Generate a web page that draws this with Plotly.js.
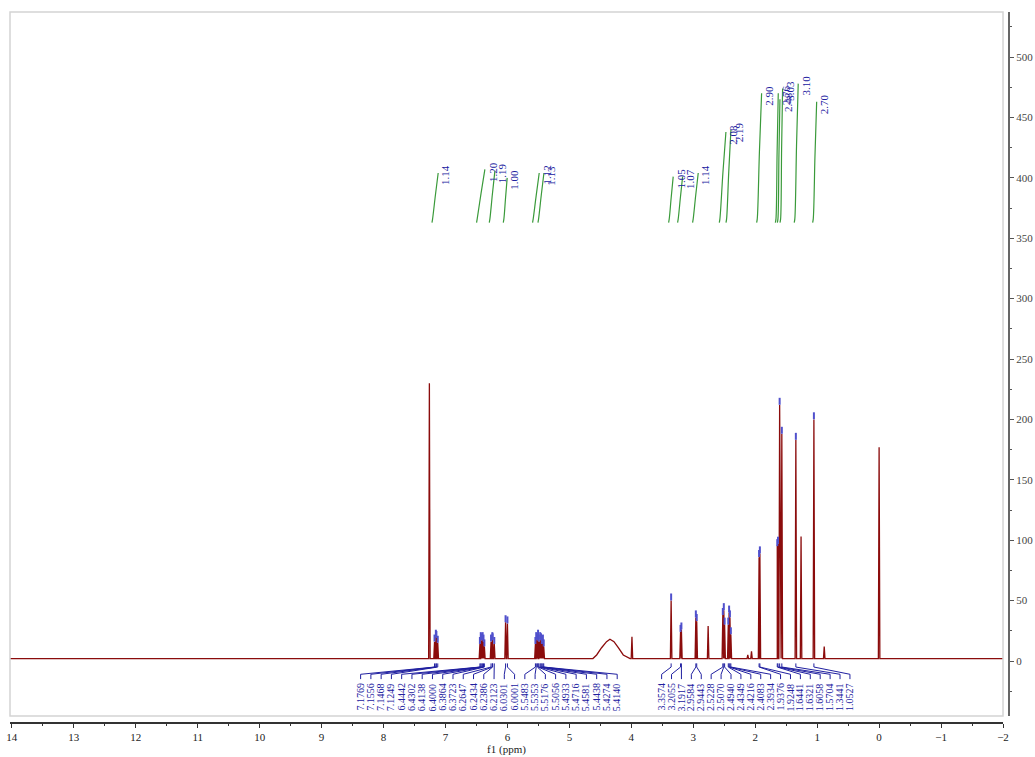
<!DOCTYPE html>
<html><head><meta charset="utf-8">
<script src="https://cdn.plot.ly/plotly-3.0.1.min.js"></script>
<style>html,body{margin:0;padding:0;background:#fff}</style>
</head><body><div id="chart" style="width:1035px;height:757px"></div>
<script>
// ---- data ----
const labeledPpm = [7.1769,7.1556,7.1468,7.1249,6.4442,6.4302,6.4138,6.4000,6.3864,6.3723,6.2647,6.2434,6.2386,6.2123,6.0301,6.0001,
  5.5483,5.5353,5.5176,5.5056,5.4933,5.4716,5.4581,5.4438,5.4274,5.4140,
  3.3574,3.2055,3.1917,2.9584,2.9443,2.5228,2.5070,2.4940,2.4349,2.4216,2.4083,2.3934,1.9376,1.9248,1.6441,1.6321,1.6058,1.5704,1.3441,1.0527];
const labeledHeight = [16,20,19,15,14,18,17,18,16,12,16,18,17,14,32,31,
  14,18,17,20,16,18,17,14,16,12,
  50,24,26,36,33,38,42,30,30,40,36,22,86,89,95,97,212,188,183,200];
const leftGroupCount = 26;
const otherPpm = [7.26, 3.99, 2.76, 2.12, 2.06, 1.26, 0.886, 0.0];
const otherHeight = [230, 20, 29, 5, 8, 103, 12, 177];
const broadPpm = [4.62, 4.56, 4.48, 4.40, 4.345, 4.28, 4.21, 4.13, 4.02];
const broadHeight = [2, 5, 11, 16, 18, 16, 11, 5, 2];
const baselineLevel = 2;
const intFrom = [7.208,6.488,6.283,6.057,5.584,5.497,3.388,3.243,3.001,2.570,2.462,1.967,1.665,1.633,1.590,1.3605,1.063];
const intTo   = [7.118,6.364,6.202,6.004,5.487,5.411,3.324,3.172,2.920,2.473,2.392,1.897,1.628,1.601,1.558,1.306,1.008];
const intTop  = [404,407,406,400,404,404,401,401,404,438,440,470,470,465,474,478,463];
const intBottom = 363;
const intLabels = ['1.14','1.20','1.19','1.00','1.12','1.13','1.05','1.07','1.14','2.08','2.19','2.90','2.76','2.48','3.03','3.10','2.70'];
const xTicks = [14,13,12,11,10,9,8,7,6,5,4,3,2,1,0,-1,-2];

// ---- styling / layout constants ----
const RED = '#8b0c0c', BLUE = '#2020a0', GREEN = '#3a9a3a';
const halfW = 0.012;
const leftLabelSpan = [8.370, 4.228], rightLabelSpan = [3.511, 0.471];

// spectrum line
let verts = [[14.03, baselineLevel], [-2, baselineLevel]];
const addPeak = (p, h) => { verts.push([p + halfW, baselineLevel], [p, h], [p - halfW, baselineLevel]); };
labeledPpm.forEach((p, i) => addPeak(p, labeledHeight[i]));
otherPpm.forEach((p, i) => addPeak(p, otherHeight[i]));
broadPpm.forEach((p, i) => verts.push([p, broadHeight[i]]));
verts.sort((a, b) => b[0] - a[0]);
const spec = {x: verts.map(v => v[0]), y: verts.map(v => v[1]), type: 'scatter', mode: 'lines',
  line: {color: RED, width: 1.3}, hoverinfo: 'skip'};

// peak pick markers
const marks = {x: labeledPpm, y: labeledHeight.map(h => h + 3), type: 'scatter', mode: 'markers',
  marker: {symbol: 'line-ns', size: 5, line: {color: '#5050cc', width: 2}}, hoverinfo: 'skip'};

// label positions & connectors
const labelX = labeledPpm.map((p, i) => {
  if (i < leftGroupCount) return leftLabelSpan[0] + (leftLabelSpan[1] - leftLabelSpan[0]) * i / (leftGroupCount - 1);
  const n = labeledPpm.length - leftGroupCount, j = i - leftGroupCount;
  return rightLabelSpan[0] + (rightLabelSpan[1] - rightLabelSpan[0]) * j / (n - 1);
});
const cx = [], cy = [];
labeledPpm.forEach((p, i) => { cx.push(p, p, labelX[i], labelX[i], null); cy.push(-2, -5, -11, -15, null); });
const conn = {x: cx, y: cy, type: 'scatter', mode: 'lines', line: {color: BLUE, width: 1}, hoverinfo: 'skip'};

// integral curves
const ix = [], iy = [];
intFrom.forEach((f, i) => {
  const t = intTo[i];
  ix.push(f + 0.01, f, f + (t - f) * 0.5, t, null);
  iy.push(intBottom, intBottom + 3, intBottom + (intTop[i] - intBottom) * 0.55, intTop[i], null);
});
const integ = {x: ix, y: iy, type: 'scatter', mode: 'lines', line: {color: GREEN, width: 1.2, shape: 'spline'}, hoverinfo: 'skip'};

const annotations = [];
labeledPpm.forEach((p, i) => annotations.push({x: labelX[i], y: -16.5, xref: 'x', yref: 'y', text: p.toFixed(4),
  showarrow: false, textangle: -90, xanchor: 'center', yanchor: 'top',
  font: {family: 'Liberation Serif', size: 10, color: BLUE}}));
intLabels.forEach((s, i) => annotations.push({x: intTo[i] - 0.12, y: intTop[i] + 8, xref: 'x', yref: 'y', text: s,
  showarrow: false, textangle: -90, xanchor: 'center', yanchor: 'top',
  font: {family: 'Liberation Serif', size: 11, color: BLUE}}));

const layout = {
  width: 1035, height: 757, margin: {l: 10, r: 26, t: 12, b: 35},
  paper_bgcolor: '#fff', plot_bgcolor: '#fff', showlegend: false, hovermode: false,
  xaxis: {domain: [0, 0.994], range: [14.03, -2], anchor: 'free', position: 0,
    showgrid: false, zeroline: false, showline: true, linecolor: '#333', linewidth: 1.5,
    ticks: 'outside', ticklen: 4, tickcolor: '#333', tickvals: xTicks,
    minor: {dtick: 0.5, ticks: 'outside', ticklen: 2, tickcolor: '#333', showgrid: false},
    tickfont: {family: 'Liberation Serif', size: 11, color: '#222'},
    title: {text: 'f1 (ppm)', standoff: 1, font: {family: 'Liberation Serif', size: 11, color: '#222'}}},
  yaxis: {domain: [0.0085, 1], range: [-45.5, 537.3], side: 'right', anchor: 'free', position: 1,
    showgrid: false, zeroline: false, showline: true, linecolor: '#666', linewidth: 2,
    ticks: 'outside', ticklen: 4, tickcolor: '#555', dtick: 50, tick0: 0,
    minor: {dtick: 25, ticks: 'outside', ticklen: 2, tickcolor: '#555', showgrid: false},
    tickfont: {family: 'Liberation Serif', size: 11, color: '#444'}},
  shapes: [{type: 'rect', xref: 'paper', yref: 'paper', x0: 0, x1: 0.994, y0: 0.0085, y1: 1,
    line: {color: '#d4d4d4', width: 1.5}}],
  annotations: annotations
};
Plotly.newPlot('chart', [spec, integ, conn, marks], layout, {staticPlot: true});
</script></body></html>
